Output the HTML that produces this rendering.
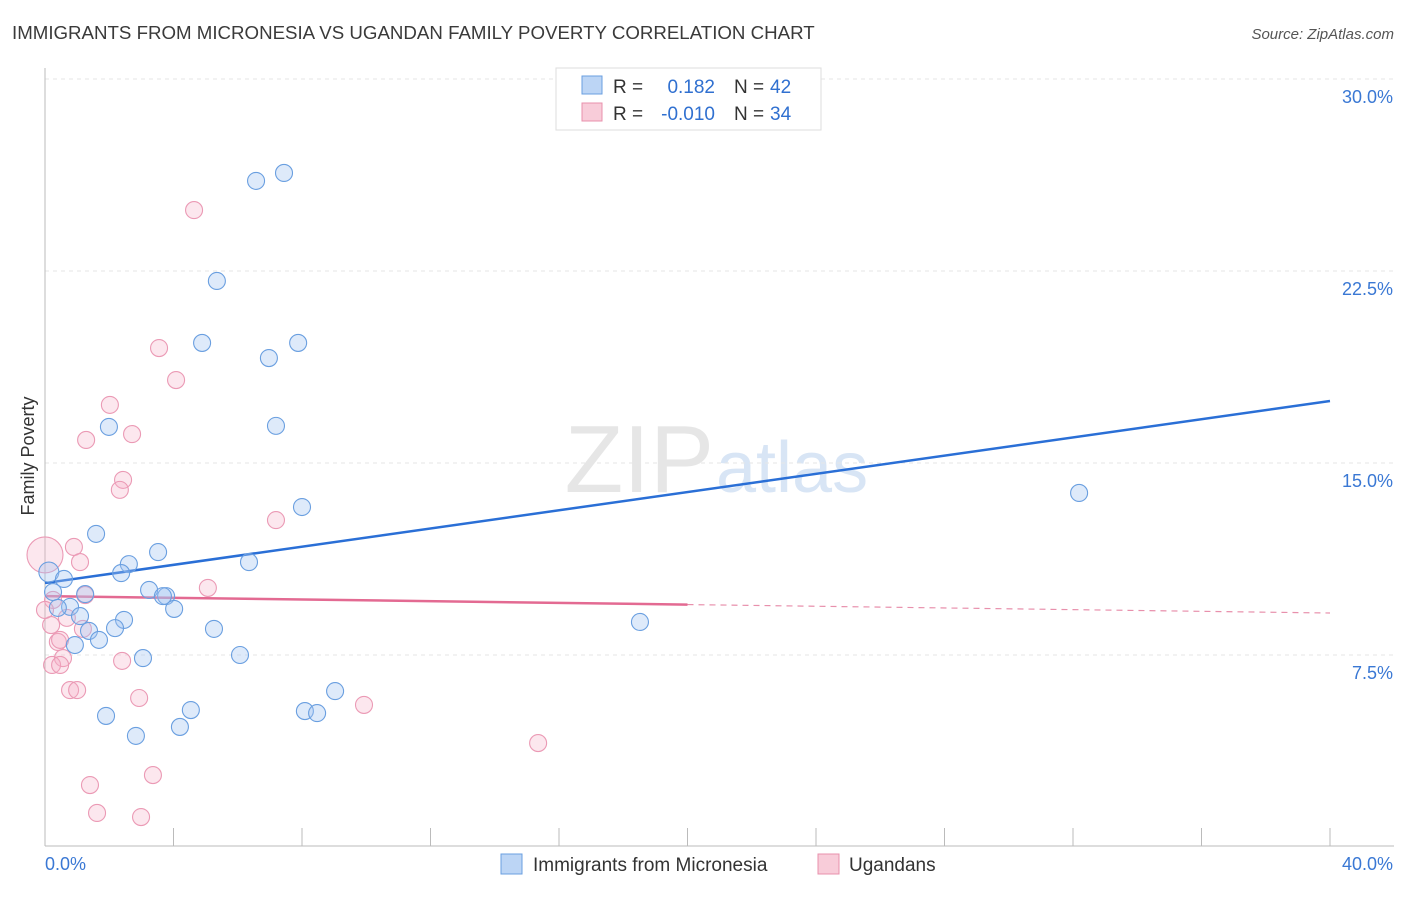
<!DOCTYPE html>
<html><head><meta charset="utf-8"><style>
body{margin:0;background:#fff;font-family:"Liberation Sans",sans-serif;}
svg text{font-family:"Liberation Sans",sans-serif;}
</style></head><body>
<svg id="chart" width="1406" height="892" xmlns="http://www.w3.org/2000/svg">
<text x="12" y="39" font-size="18.7" fill="#3a3a3a">IMMIGRANTS FROM MICRONESIA VS UGANDAN FAMILY POVERTY CORRELATION CHART</text>
<text x="1394" y="39" font-size="15" fill="#555" text-anchor="end" font-style="italic">Source: ZipAtlas.com</text>
<text x="714" y="492" font-size="96" fill="#e6e6e6" text-anchor="end" font-family="Liberation Serif">ZIP</text>
<text x="716" y="492" font-size="72" fill="#d8e5f5">atlas</text>
<g id="grid"></g>
<g id="axes"></g>
<g id="lines"></g>
<g id="points"></g>
<text transform="translate(34,456) rotate(-90)" font-size="18" fill="#333" text-anchor="middle">Family Poverty</text>
<g>
<rect x="556" y="68" width="265" height="62" fill="#fff" stroke="#ddd"/>
<rect x="582" y="76" width="20" height="18" fill="#bcd5f5" stroke="#6a9fe0"/>
<rect x="582" y="103" width="20" height="18" fill="#f8ccd9" stroke="#e890ac"/>
<text x="613" y="93" font-size="19" fill="#333">R = </text><text x="715" y="93" font-size="19" fill="#3070d0" text-anchor="end">0.182</text>
<text x="734" y="93" font-size="19" fill="#333">N = </text><text x="770" y="93" font-size="19" fill="#3070d0">42</text>
<text x="613" y="120" font-size="19" fill="#333">R = </text><text x="715" y="120" font-size="19" fill="#3070d0" text-anchor="end">-0.010</text>
<text x="734" y="120" font-size="19" fill="#333">N = </text><text x="770" y="120" font-size="19" fill="#3070d0">34</text>
</g>
<g>
<rect x="501" y="854" width="21" height="20" fill="#bcd5f5" stroke="#6a9fe0"/>
<text x="533" y="871" font-size="19" fill="#333">Immigrants from Micronesia</text></g>
<g>
<rect x="818" y="854" width="21" height="20" fill="#f8ccd9" stroke="#e890ac"/>
<text x="849" y="871" font-size="19" fill="#333">Ugandans</text></g>
</svg>
<script>
const blueX=[6.57,7.44,5.35,4.89,6.97,7.88,1.99,7.19,8.00,32.19,1.59,3.52,0.12,2.61,2.37,6.35,0.59,0.25,3.24,3.77,1.25,3.67,4.02,0.78,2.46,1.09,2.18,1.37,5.26,1.68,0.93,3.05,6.07,18.52,9.03,1.90,4.54,8.09,8.47,2.83,4.20,0.40];
const blueY=[26.02,26.33,22.11,19.69,19.10,19.69,16.41,16.45,13.28,13.83,12.23,11.52,10.74,11.05,10.70,11.13,10.47,9.96,10.04,9.80,9.88,9.80,9.30,9.38,8.87,9.02,8.55,8.44,8.52,8.09,7.89,7.38,7.50,8.79,6.09,5.12,5.35,5.31,5.23,4.34,4.69,9.34];
const pinkX=[4.64,3.55,4.08,2.02,1.28,2.71,2.43,2.33,7.19,0.90,1.09,0,5.07,0.25,1.25,0.68,1.18,0.40,0.56,2.40,0.22,0.47,0.78,1.00,2.93,9.93,15.35,3.36,1.40,1.62,2.99,0.19,0.47,0];
const pinkY=[24.88,19.49,18.24,17.27,15.90,16.13,14.34,13.95,12.77,11.72,11.13,11.41,10.12,9.65,9.84,8.95,8.52,8.01,7.38,7.27,7.11,7.11,6.13,6.13,5.82,5.55,4.06,2.81,2.42,1.33,1.17,8.67,8.09,9.26];
const xTicks=[0,40];
const yTicks=[7.5,15,22.5,30];
const yTickLabels=["7.5%","15.0%","22.5%","30.0%"];
const blueTrend=[10.31,17.42];
const pinkTrend=[9.80,9.14];
const NS="http://www.w3.org/2000/svg";
const X=v=>45+v/40*1285, Y=v=>847-v/7.5*192;
function mk(parent,tag,attrs){const e=document.createElementNS(NS,tag);for(const k in attrs)e.setAttribute(k,attrs[k]);document.getElementById(parent).appendChild(e);return e;}
yTicks.forEach((t,i)=>{
 const g=mk('grid','line',{x1:45,x2:1394,y1:Y(t),y2:Y(t),stroke:'#e6e6e6','stroke-dasharray':'4,4'});
 
 
 const l=mk('axes','text',{x:1393,y:Y(t)+24,'font-size':18,fill:'#3a78d4','text-anchor':'end'});l.textContent=yTickLabels[i];
 
 
});
const ax=mk('axes','line',{x1:45,x2:45,y1:68,y2:846,stroke:'#bbb'});


const bx=mk('axes','line',{x1:45,x2:1394,y1:846,y2:846,stroke:'#bbb'});


for(let i=1;i<=10;i++){const t=mk('axes','line',{x1:X(i*4),x2:X(i*4),y1:828,y2:846,stroke:'#bbb'});
 
 }
xTicks.forEach((t,i)=>{const l=mk('axes','text',{x:i==0?45:1393,y:870,'font-size':18,fill:'#3a78d4','text-anchor':i==0?'start':'end'});l.textContent=t.toFixed(1)+'%';
 
 });
const bl=mk('lines','line',{x1:X(0),y1:Y(blueTrend[0]),x2:X(40),y2:Y(blueTrend[1]),stroke:'#2a6fd6','stroke-width':2.5});


const pm=pinkTrend[0]+(pinkTrend[1]-pinkTrend[0])*0.5;
const pl=mk('lines','line',{x1:X(0),y1:Y(pinkTrend[0]),x2:X(20),y2:Y(pm),stroke:'#e36a92','stroke-width':2.5});


const pd=mk('lines','line',{x1:X(20),y1:Y(pm),x2:X(40),y2:Y(pinkTrend[1]),stroke:'#e890ac','stroke-width':1.2,'stroke-dasharray':'6,5'});


pinkX.forEach((x,i)=>{const c=mk('points','circle',{cx:X(x),cy:Y(pinkY[i]),r:i==11?18:8.5,fill:'rgba(245,175,198,0.3)',stroke:'#eb9ab5','stroke-width':1.1});
 
 });
blueX.forEach((x,i)=>{const c=mk('points','circle',{cx:X(x),cy:Y(blueY[i]),r:i==12?10:8.5,fill:'rgba(160,196,240,0.35)',stroke:'#6a9fe0','stroke-width':1.1});
 
 });
</script>
</body></html>
